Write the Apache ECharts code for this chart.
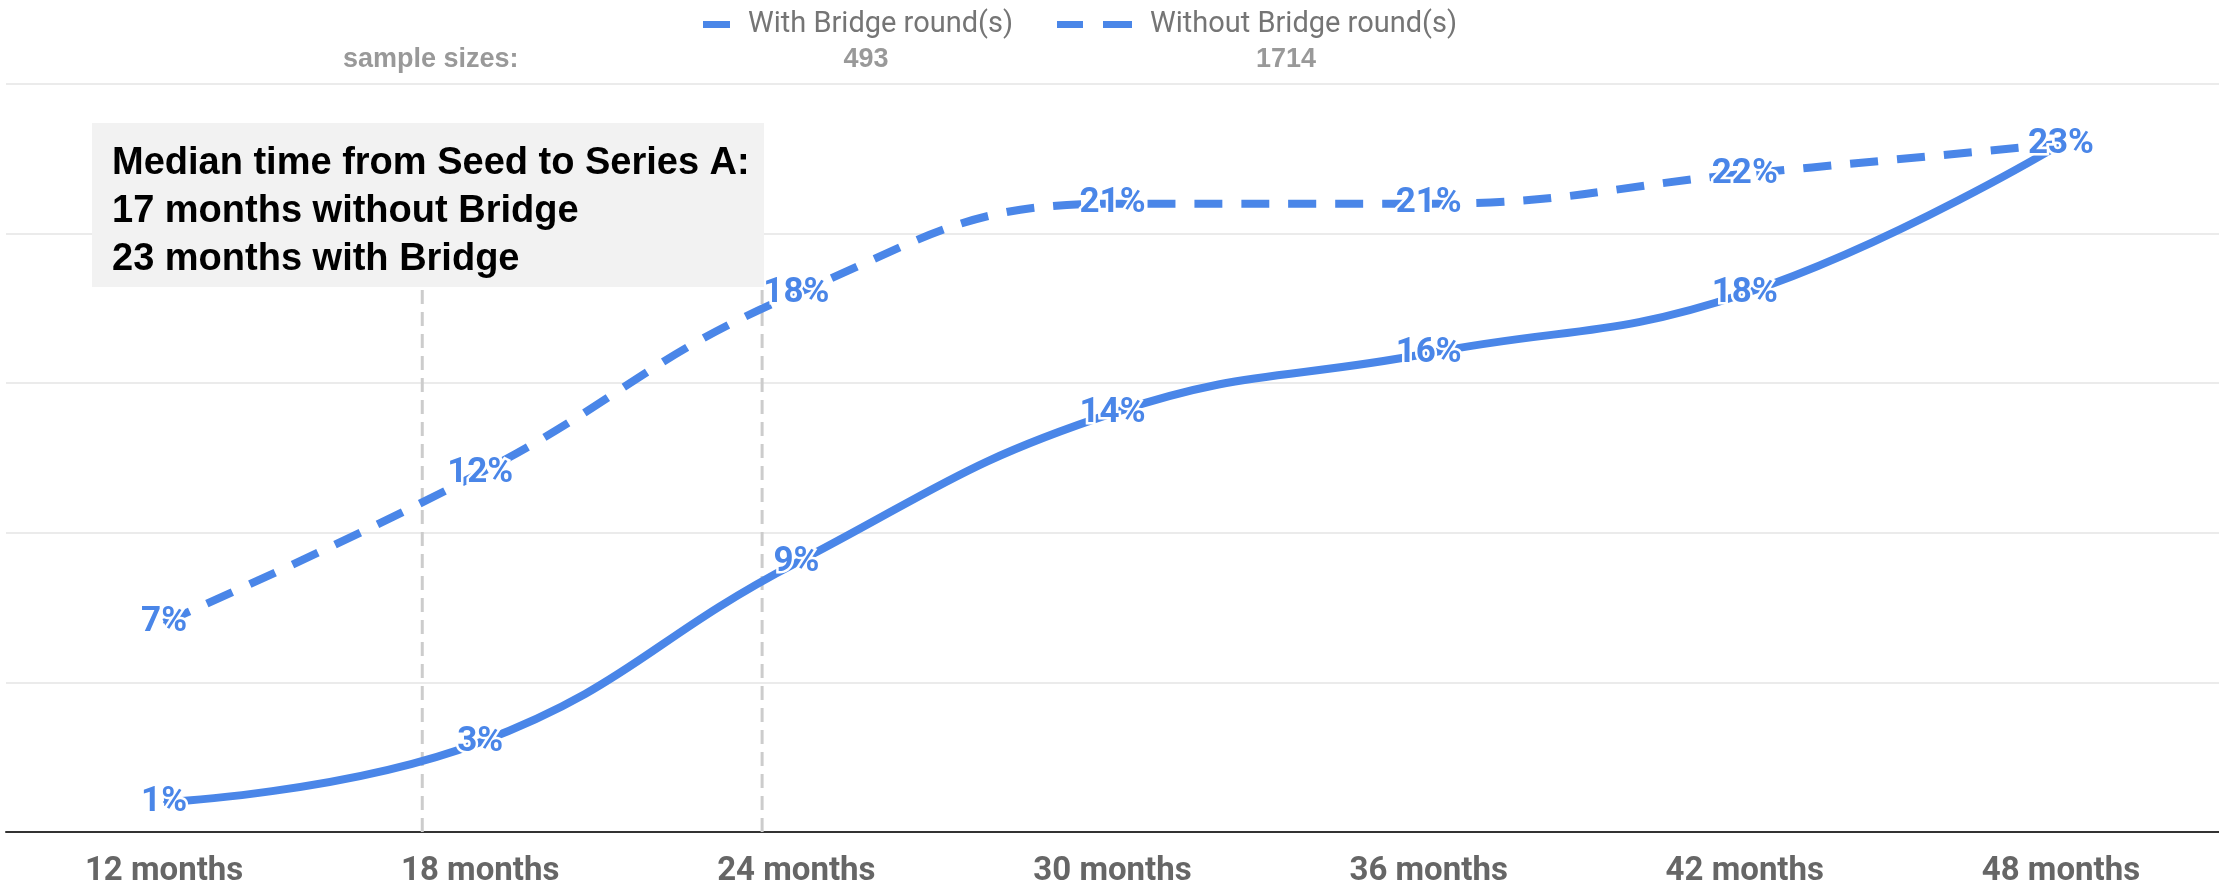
<!DOCTYPE html>
<html>
<head>
<meta charset="utf-8">
<title>Seed to Series A conversion</title>
<script src="https://cdn.jsdelivr.net/npm/echarts@6/dist/echarts.min.js"></script>
<style>
  html, body { margin: 0; padding: 0; background: #ffffff; }
  #chart { width: 2219px; height: 889px; }
</style>
</head>
<body>
<div id="chart"></div>
<script>
// Months since seed round
const categories = ['12 months', '18 months', '24 months', '30 months', '36 months', '42 months', '48 months'];

// Share of companies that raised a Series A (%)
const withBridge = [1, 3, 9, 14, 16, 18, 23];
const withoutBridge = [7, 12, 18, 21, 21, 22, 23];

const seriesNames = ['With Bridge round(s)', 'Without Bridge round(s)'];
const sampleSizes = [493, 1714];

// Median months from seed to Series A (without bridge, with bridge)
const medianMonths = [16.9, 23.35];

const noteLines = [
  'Median time from Seed to Series A:',
  '17 months without Bridge',
  '23 months with Bridge'
];

const BLUE = '#4a86e8';

const chart = echarts.init(document.getElementById('chart'), null, { renderer: 'canvas' });

const dataLabel = {
  show: true,
  position: 'inside',
  formatter: '{c}%',
  fontFamily: 'Roboto',
  fontWeight: 'bold',
  fontSize: 35,
  color: BLUE,
  textBorderColor: '#ffffff',
  textBorderWidth: 5
};

const legendText = {
  fontFamily: 'Roboto',
  fontSize: 29,
  color: '#757575',
  padding: [0, 0, 0, 13]
};

// Dashed vertical guides at the median times
const medianSeries = medianMonths.map((m) => ({
  type: 'line',
  xAxisIndex: 1,
  yAxisIndex: 0,
  data: [[m, 0], [m, 22]],
  symbol: 'none',
  silent: true,
  z: 1,
  lineStyle: { color: '#cccccc', width: 3, type: [14, 8] }
}));

const option = {
  animation: false,
  backgroundColor: '#ffffff',
  legend: [
    {
      data: [{ name: seriesNames[0], icon: 'rect' }],
      left: 698, top: 5,
      itemWidth: 27, itemHeight: 7,
      selectedMode: false,
      textStyle: legendText
    },
    {
      data: [{ name: seriesNames[1], icon: 'path://M0 0H26V7H0Z M46 0H75V7H46Z' }],
      left: 1052, top: 5,
      itemWidth: 75, itemHeight: 7,
      selectedMode: false,
      textStyle: legendText
    }
  ],
  grid: { left: 6, right: 0, top: 84, bottom: 57, containLabel: false },
  xAxis: [
    {
      type: 'category',
      data: categories,
      boundaryGap: true,
      axisLine: { show: true, lineStyle: { color: '#333333', width: 2 } },
      axisTick: { show: false },
      axisLabel: {
        margin: 23,
        fontFamily: 'Roboto',
        fontWeight: 'bold',
        fontSize: 33,
        color: '#666666'
      },
      splitLine: { show: false }
    },
    {
      // month scale aligned with the category centres (12 .. 48)
      type: 'value',
      min: 9,
      max: 51,
      show: false
    }
  ],
  yAxis: {
    type: 'value',
    min: 0,
    max: 25,
    interval: 5,
    axisLine: { show: false },
    axisTick: { show: false },
    axisLabel: { show: false },
    splitLine: { show: true, lineStyle: { color: '#ebebeb', width: 2 } }
  },
  series: [
    ...medianSeries,
    {
      name: seriesNames[1],
      type: 'line',
      data: withoutBridge,
      smooth: 0.45,
      symbol: 'circle',
      symbolSize: 2,
      showSymbol: true,
      z: 3,
      itemStyle: { color: BLUE },
      lineStyle: { color: BLUE, width: 8, type: [28, 19], cap: 'butt' },
      label: dataLabel,
      emphasis: { disabled: true }
    },
    {
      name: seriesNames[0],
      type: 'line',
      data: withBridge,
      smooth: 0.45,
      symbol: 'circle',
      symbolSize: 2,
      showSymbol: true,
      z: 4,
      itemStyle: { color: BLUE },
      lineStyle: { color: BLUE, width: 8 },
      label: dataLabel,
      emphasis: { disabled: true }
    }
  ],
  graphic: [
    {
      type: 'text',
      x: 343,
      y: 60,
      z: 10,
      style: {
        text: 'sample sizes:',
        font: 'bold 27px "Liberation Sans", Arial, sans-serif',
        fill: '#999999',
        verticalAlign: 'middle'
      }
    },
    ...sampleSizes.map((n, i) => ({
      type: 'text',
      x: [866, 1286][i],
      y: 60,
      z: 10,
      style: {
        text: String(n),
        font: 'bold 27px "Liberation Sans", Arial, sans-serif',
        fill: '#999999',
        align: 'center',
        verticalAlign: 'middle'
      }
    })),
    {
      type: 'group',
      left: 92,
      top: 123,
      z: 100,
      children: [
        {
          type: 'rect',
          shape: { x: 0, y: 0, width: 672, height: 164 },
          style: { fill: '#f2f2f2' },
          z: 100
        },
        {
          type: 'text',
          x: 20,
          y: 17,
          z: 101,
          style: {
            text: noteLines.join('\n'),
            font: 'bold 38px "Liberation Sans", Arial, sans-serif',
            lineHeight: 48,
            fill: '#000000',
            verticalAlign: 'top'
          }
        }
      ]
    }
  ]
};

chart.setOption(option);
</script>
</body>
</html>
